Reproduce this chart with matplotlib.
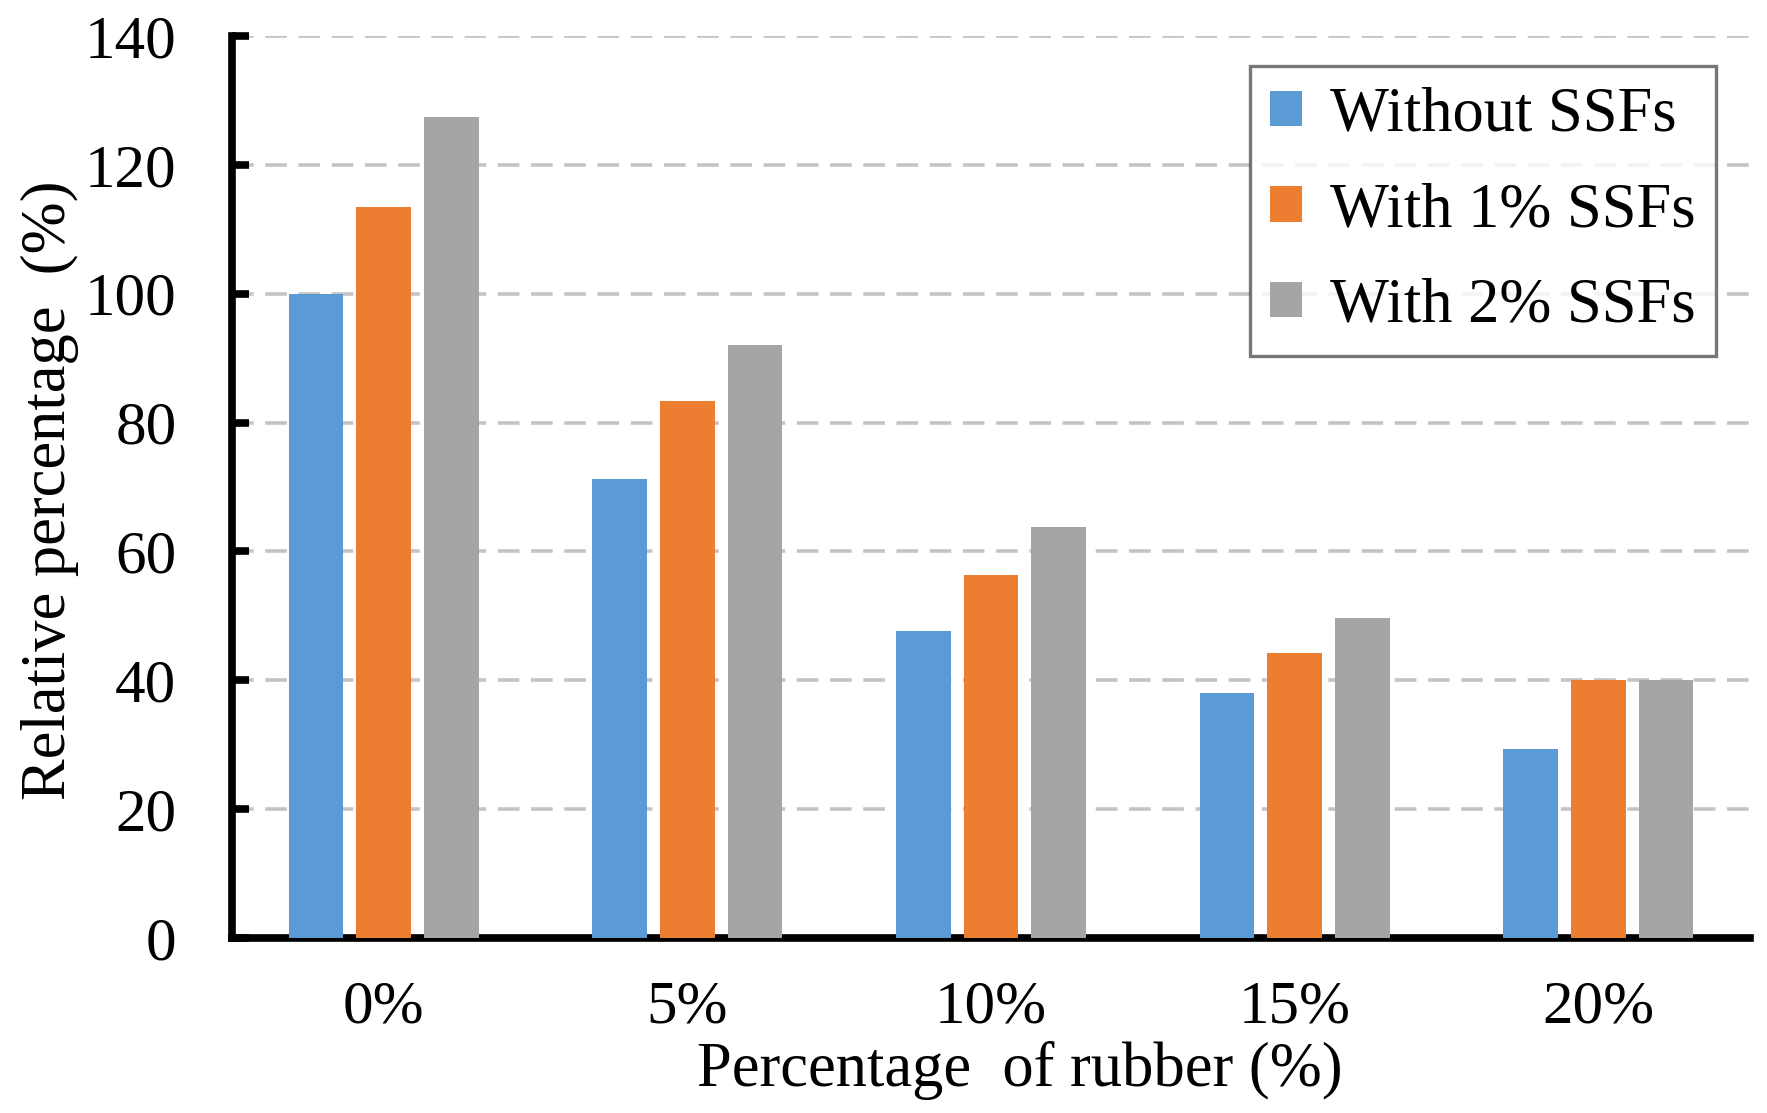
import matplotlib
matplotlib.use("Agg")
import matplotlib.pyplot as plt
import numpy as np
from matplotlib.patches import Patch

categories = ["0%", "5%", "10%", "15%", "20%"]
series_names = ["Without SSFs", "With 1% SSFs", "With 2% SSFs"]
without_ssf = [100.0, 71.2, 47.6, 38.1, 29.4]
with_1_ssf = [113.5, 83.4, 56.3, 44.2, 40.0]
with_2_ssf = [127.4, 92.1, 63.8, 49.7, 40.0]
colors = ["#5B9BD5", "#ED7D31", "#A5A5A5"]
yticks = [0, 20, 40, 60, 80, 100, 120, 140]

plt.rcParams['font.family'] = ['Liberation Serif', 'DejaVu Serif']

W, H = 1767, 1113
fig = plt.figure(figsize=(W / 100, H / 100), dpi=100)
left, right, top, bottom = 232, 1750, 36, 938
ax = fig.add_axes([left / W, 1 - bottom / H, (right - left) / W, (bottom - top) / H])

x = np.arange(len(categories))
width = 0.18
step = 0.223
for i, vals in enumerate([without_ssf, with_1_ssf, with_2_ssf]):
    ax.bar(x + (i - 1) * step, vals, width, color=colors[i], zorder=3, label=series_names[i])

ax.set_xlim(-0.5, len(categories) - 0.5)
ax.set_ylim(0, 140)
ax.set_yticks(yticks)
ax.set_xticks(x)
ax.set_xticklabels(categories)

ax.yaxis.grid(True, linestyle=(0, (6, 3.2)), color="#c4c4c4", linewidth=2.6, zorder=0)
ax.set_axisbelow(True)

for s in ["top", "right"]:
    ax.spines[s].set_visible(False)
for s in ["left", "bottom"]:
    ax.spines[s].set_linewidth(5.5)
    ax.spines[s].set_color("black")
    ax.spines[s].set_capstyle("projecting")

ax.tick_params(axis="y", direction="in", length=12, width=5.5, labelsize=44, pad=40, colors="black")
ax.tick_params(axis="x", length=0, labelsize=44, pad=30)

fig.text(50 / W, 1 - 490 / H, "Relative percentage  (%)", rotation=90, fontsize=45,
         ha="center", va="center")
fig.text(1020 / W, 1 - 1070 / H, "Percentage  of rubber (%)", fontsize=45,
         ha="center", va="center")

handles = [Patch(facecolor=c) for c in colors]
leg = ax.legend(handles, series_names, loc="upper right",
                bbox_to_anchor=((1716 - left) / (right - left), (bottom - 66) / (bottom - top)),
                fontsize=45, frameon=True, fancybox=False, edgecolor="#555555",
                handlelength=0.5, handleheight=0.5, handletextpad=0.45, labelspacing=0.6,
                borderpad=0.33, borderaxespad=0)
leg.get_frame().set_linewidth(2.4)

fig.savefig("out.png", dpi=100)
